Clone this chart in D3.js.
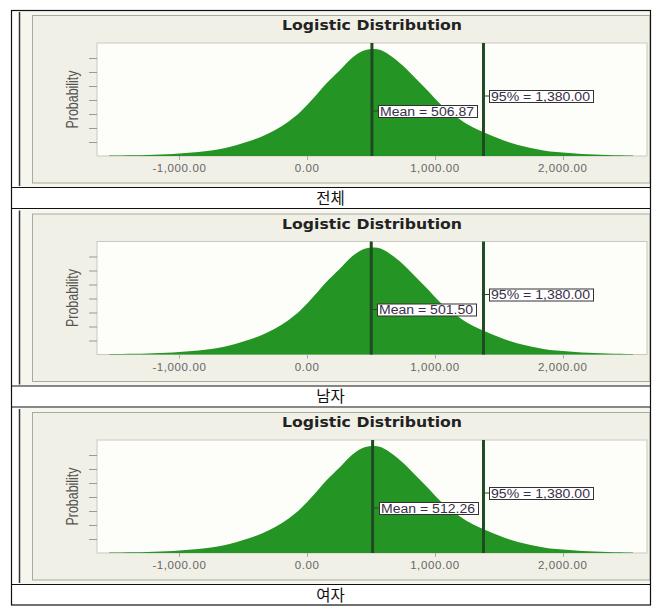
<!DOCTYPE html>
<html><head><meta charset="utf-8">
<script src="https://cdn.jsdelivr.net/npm/d3@7"></script>
<style>body{margin:0;background:#fff}svg{display:block}</style></head>
<body>
<script>
// ---- data ----
const chartTitle = "Logistic Distribution";
const yAxisLabel = "Probability";
const panelLabels = ["전체", "남자", "여자"];
const meanValues = [506.87, 501.50, 512.26];
const pct95Values = [1380.00, 1380.00, 1380.00];
const xTicks = [-1000, 0, 1000, 2000];
const yTicks = [1, 2, 3, 4, 5, 6, 7];
// x grid of the fitted curve and its probability (x 10^-3)
const xGrid = [-1550,-1450,-1350,-1250,-1150,-1050,-950,-850,-750,-650,-550,-450,-350,-250,-150,-50,
  50,150,250,350,450,500,550,650,750,850,950,1050,1150,1250,1350,1450,1550,1650,1750,1850,1950,
  2050,2150,2250,2350,2450,2550];
const probability = [0.029,0.043,0.057,0.079,0.107,0.150,0.207,0.286,0.400,0.557,0.786,1.071,1.414,1.857,2.429,3.179,
  4.143,5.179,6.071,7.000,7.550,7.643,7.620,7.180,6.450,5.536,4.607,3.643,2.929,2.286,1.821,1.429,1.071,0.786,0.571,0.400,0.286,
  0.214,0.150,0.107,0.079,0.057,0.036];

// ---- layout ----
const W = 662, H = 614;
const tableL = 11, tableR = 650, tableT = 10, pitch = 198.5;
const svg = d3.select("body").append("svg").attr("width", W).attr("height", H);
const fmt = d3.formatLocale({decimal: ".", thousands: ",", grouping: [3], currency: ["", ""], minus: "-"}).format(",.2f");

const plotL = 97, plotR = 647, plotTop = 33, plotH = 113;
const x = d3.scaleLinear().domain([-1645, 2660]).range([plotL, plotR]);
const y = d3.scaleLinear().domain([0, 113 / 14]).range([plotTop + plotH, plotTop]);
const pts = xGrid.map((v, i) => ({x: v, p: probability[i]}));

panelLabels.forEach((lab, i) => {
  const g = svg.append("g").attr("transform", `translate(0,${tableT + pitch * i})`);
  // image background
  g.append("rect").attr("x", 19).attr("y", 1).attr("width", tableR - 19).attr("height", 176)
    .attr("fill", "#f6f6ef");
  g.append("line").attr("x1", 19.5).attr("x2", 19.5).attr("y1", 2).attr("y2", 176)
    .attr("stroke", "#333").attr("stroke-width", 1.5);
  // beige chart panel
  g.append("rect").attr("x", 32.5).attr("y", 5.5).attr("width", tableR - 32.5).attr("height", 167.5)
    .attr("fill", "#f1f0e6").attr("stroke", "#a9a9a0").attr("stroke-width", 1);
  // plot area
  g.append("rect").attr("x", plotL).attr("y", plotTop).attr("width", plotR - plotL).attr("height", plotH)
    .attr("fill", "#fdfdf9").attr("stroke", "#c9c9c0").attr("stroke-width", 1);
  // title
  g.append("text").attr("x", (plotL + plotR) / 2).attr("y", 20)
    .attr("text-anchor", "middle").attr("font-family", "DejaVu Sans, Verdana, sans-serif")
    .attr("font-weight", "bold").attr("font-size", 13.5).attr("fill", "#222")
    .attr("textLength", 180).attr("lengthAdjust", "spacingAndGlyphs").text(chartTitle);
  // y label
  g.append("text").attr("transform", `translate(78,${plotTop + plotH / 2}) rotate(-90)`)
    .attr("text-anchor", "middle").attr("font-family", "Liberation Sans, Arial, sans-serif")
    .attr("font-size", 17).attr("fill", "#555")
    .attr("textLength", 58).attr("lengthAdjust", "spacingAndGlyphs").text(yAxisLabel);
  // y ticks
  g.selectAll(".yt").data(yTicks).enter().append("line")
    .attr("x1", plotL - 8).attr("x2", plotL).attr("y1", d => Math.round(y(d)) + 0.5).attr("y2", d => Math.round(y(d)) + 0.5)
    .attr("stroke", "#999");
  // area
  const area = d3.area().x(d => x(d.x)).y0(y(0)).y1(d => y(d.p)).curve(d3.curveMonotoneX);
  g.append("path").datum(pts).attr("d", area).attr("fill", "#249424");
  // x ticks
  g.selectAll(".xt").data(xTicks).enter().append("line")
    .attr("x1", d => Math.round(x(d)) + 0.5).attr("x2", d => Math.round(x(d)) + 0.5)
    .attr("y1", plotTop + plotH).attr("y2", plotTop + plotH + 4).attr("stroke", "#aaa");
  g.selectAll(".xl").data(xTicks).enter().append("text")
    .attr("x", d => x(d)).attr("y", plotTop + plotH + 16).attr("text-anchor", "middle")
    .attr("font-family", "Liberation Sans, Arial, sans-serif").attr("font-size", 11.5)
    .attr("letter-spacing", 0.6).attr("fill", "#666").text(d => fmt(d));
  // marker lines and labels
  const markers = [
    {v: meanValues[i], text: "Mean = " + fmt(meanValues[i]), dy: 68, w: 99},
    {v: pct95Values[i], text: "95% = " + fmt(pct95Values[i]), dy: 53, w: 104}
  ];
  markers.forEach(m => {
    const mx = x(m.v);
    g.append("line").attr("x1", mx).attr("x2", mx).attr("y1", plotTop).attr("y2", plotTop + plotH)
      .attr("stroke", "#1f4a22").attr("stroke-width", 3);
    const by = plotTop + m.dy;
    g.append("line").attr("x1", mx).attr("x2", mx + 6).attr("y1", by).attr("y2", by)
      .attr("stroke", "#1f4a22").attr("stroke-width", 1);
    g.append("rect").attr("x", Math.round(mx + 6) + 0.5).attr("y", Math.round(by - 6) + 0.5)
      .attr("width", m.w).attr("height", 12).attr("fill", "#fff").attr("stroke", "#333");
    g.append("text").attr("x", Math.round(mx + 8)).attr("y", by + 4.5)
      .attr("font-family", "Liberation Sans, Arial, sans-serif").attr("font-size", 12)
      .attr("fill", "#3a2f48").attr("textLength", m.w - 5).attr("lengthAdjust", "spacingAndGlyphs")
      .text(m.text);
  });
  // table row separator and label
  g.append("line").attr("x1", tableL).attr("x2", tableR).attr("y1", 177.5).attr("y2", 177.5)
    .attr("stroke", "#111").attr("stroke-width", 1.2);
  if (i < panelLabels.length - 1)
    g.append("line").attr("x1", tableL).attr("x2", tableR).attr("y1", 198.5).attr("y2", 198.5)
      .attr("stroke", "#111").attr("stroke-width", 1.2);
  g.append("text").attr("x", (tableL + tableR) / 2).attr("y", 193.5).attr("text-anchor", "middle")
    .attr("font-family", "Noto Sans CJK KR, sans-serif").attr("font-size", 15.5).attr("fill", "#111").text(lab);
});
// outer table border
svg.append("rect").attr("x", tableL + 0.5).attr("y", tableT + 0.5)
  .attr("width", tableR - tableL).attr("height", pitch * 3 - 1)
  .attr("fill", "none").attr("stroke", "#111").attr("stroke-width", 1.2);
</script>
</body></html>
